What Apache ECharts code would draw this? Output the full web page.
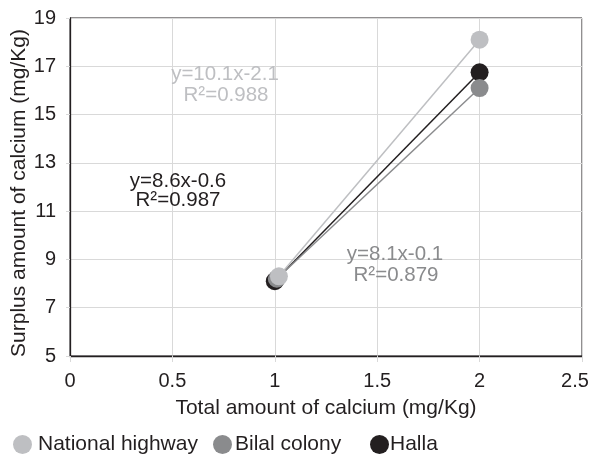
<!DOCTYPE html>
<html>
<head>
<meta charset="utf-8">
<script src="https://cdn.jsdelivr.net/npm/echarts@6/dist/echarts.min.js"></script>
<style>
html,body{margin:0;padding:0;background:#fff;}
#c{width:593px;height:455px;}
</style>
</head>
<body>
<div id="c"></div>
<script>
// ---- data ----
const seriesNames = ['National highway', 'Bilal colony', 'Halla'];
const nationalHighway = [[1.02, 8.3], [2, 18.1]];
const bilalColony = [[1.01, 8.2], [2, 16.1]];
const halla = [[1.0, 8.1], [2, 16.75]];
const equations = ['y=10.1x-2.1', 'y=8.1x-0.1', 'y=8.6x-0.6'];
const rSquared = ['R²=0.988', 'R²=0.879', 'R²=0.987'];
const xAxisTitle = 'Total amount of calcium (mg/Kg)';
const yAxisTitle = 'Surplus amount of calcium (mg/Kg)';

const colors = ['#bebfc2', '#8a8b8d', '#231f20'];
const font = 'Liberation Sans, Arial, sans-serif';
const textColor = '#231f20';

const chart = echarts.init(document.getElementById('c'), null, {renderer: 'canvas'});

function mkSeries(name, data, color, z) {
  return {
    name: name,
    type: 'line',
    data: data,
    symbol: 'circle',
    symbolSize: 18,
    z: z,
    lineStyle: {color: color, width: 1.5},
    itemStyle: {color: color},
    emphasis: {disabled: true},
    animation: false
  };
}

function mkLegend(name, left, textGap) {
  return {
    data: [name],
    left: left,
    top: 434,
    icon: 'circle',
    itemWidth: 19,
    itemHeight: 19,
    itemGap: 0,
    padding: 0,
    textStyle: {fontSize: 21, fontFamily: font, color: textColor, padding: [0, 0, 0, textGap]}
  };
}

function mkText(text, cx, cy, color) {
  return {
    type: 'text',
    x: cx, y: cy,
    style: {
      text: text, fill: color, font: '20.5px ' + font,
      textAlign: 'center', textVerticalAlign: 'middle'
    },
    z: 100
  };
}

chart.setOption({
  animation: false,
  backgroundColor: '#fff',
  grid: {
    left: 70, right: 11, top: 18, bottom: 99,
    outerBoundsMode: 'none',
    containLabel: false,
    show: true, borderColor: '#231f20', borderWidth: 1, backgroundColor: 'transparent'
  },
  xAxis: {
    type: 'value', min: 0, max: 2.5, interval: 0.5,
    name: xAxisTitle, nameLocation: 'middle', nameGap: 42, nameMoveOverlap: false,
    nameTextStyle: {fontSize: 21, fontFamily: font, color: textColor},
    axisLine: {show: true, lineStyle: {color: '#231f20', width: 1.3}},
    axisTick: {show: true, length: 6, lineStyle: {color: '#d9d9d9'}},
    axisLabel: {
      fontSize: 20, fontFamily: font, color: textColor, margin: 15,
      formatter: function (v) { return v === 2.5 ? '{m|' + v + '}' : String(v); },
      rich: {m: {fontSize: 20, fontFamily: font, color: textColor, padding: [0, 14, 0, 0]}}
    },
    splitLine: {show: true, lineStyle: {color: '#d9d9d9', width: 1}}
  },
  yAxis: {
    type: 'value', min: 5, max: 19, interval: 2,
    name: yAxisTitle, nameLocation: 'middle', nameGap: 40, nameRotate: 90, nameMoveOverlap: false,
    nameTextStyle: {fontSize: 21, fontFamily: font, color: textColor, padding: [0, 12, 0, 0]},
    axisLine: {show: true, lineStyle: {color: '#231f20', width: 1.3}},
    axisTick: {show: true, length: 4, lineStyle: {color: '#d9d9d9'}},
    axisLabel: {fontSize: 20, fontFamily: font, color: textColor, margin: 14},
    splitLine: {show: true, lineStyle: {color: '#d9d9d9', width: 1}}
  },
  legend: [
    mkLegend(seriesNames[0], 13, 1),
    mkLegend(seriesNames[1], 213, -2),
    mkLegend(seriesNames[2], 370, -4)
  ],
  series: [
    mkSeries(seriesNames[2], halla, colors[2], 2),
    mkSeries(seriesNames[1], bilalColony, colors[1], 3),
    mkSeries(seriesNames[0], nationalHighway, colors[0], 4)
  ],
  graphic: [
    mkText(equations[0], 225, 74, colors[0]),
    mkText(rSquared[0], 226, 95, colors[0]),
    mkText(equations[1], 395, 254, colors[1]),
    mkText(rSquared[1], 396, 275, colors[1]),
    mkText(equations[2], 178, 181, colors[2]),
    mkText(rSquared[2], 178, 200, colors[2])
  ]
});
</script>
</body>
</html>
